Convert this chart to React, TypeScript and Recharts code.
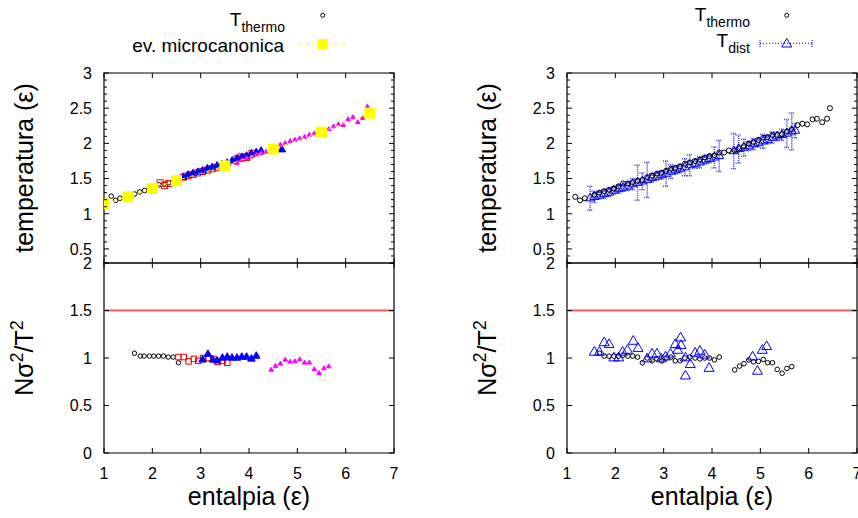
import { ErrorBar, Legend, ReferenceArea, ReferenceLine, Scatter, ScatterChart, XAxis, YAxis } from 'recharts'

const FONT = '"Liberation Sans", Arial, Helvetica, sans-serif'
const PLOT_W = 290
const PLOT_H = 190
const AXIS_W = 104

// tick values
const enthalpyTicks = [1, 2, 3, 4, 5, 6, 7]
const tempTicks = [
  0.3, 0.4, 0.5, 0.6, 0.7, 0.8, 0.9, 1, 1.1, 1.2, 1.3, 1.4, 1.5, 1.6, 1.7, 1.8, 1.9, 2, 2.1, 2.2, 2.3, 2.4,
  2.5, 2.6, 2.7, 2.8, 2.9, 3,
]
const ratioTicks = [0, 0.5, 1, 1.5, 2]

// left column, temperature vs enthalpy
const thermoLX = [1.15, 1.24, 1.33, 1.63, 1.74, 1.84, 1.94, 2.04, 2.14, 2.24, 2.34, 2.44, 2.54]
const thermoLY = [1.25, 1.19, 1.22, 1.28, 1.31, 1.33, 1.35, 1.37, 1.41, 1.42, 1.44, 1.46, 1.47]
const redLX = [2.16, 2.25, 2.34, 2.64, 2.74, 2.84, 2.94, 3.04, 3.14, 3.24, 3.34, 3.75, 3.85, 3.95, 4.06]
const redLY = [1.44, 1.4, 1.43, 1.52, 1.54, 1.56, 1.58, 1.6, 1.62, 1.64, 1.66, 1.78, 1.81, 1.8, 1.86]
const blueLX = [2.64, 2.74, 2.84, 2.94, 3.04, 3.14, 3.24, 3.34, 3.44, 3.55, 3.65, 3.75, 3.85, 3.95, 4.05, 4.15, 4.25, 4.68]
const blueLY = [1.52, 1.55, 1.57, 1.59, 1.61, 1.64, 1.66, 1.68, 1.7, 1.72, 1.75, 1.78, 1.8, 1.82, 1.85, 1.87, 1.89, 1.91]
const magentaLX = [
  3.75, 3.85, 3.95, 4.05, 4.15, 4.25, 4.35, 4.46, 4.55, 4.65, 4.75, 4.85, 4.95, 5.05, 5.15, 5.25, 5.35, 5.45,
  5.55, 5.65, 5.75, 5.85, 5.95, 6.05, 6.15, 6.25, 6.35, 6.45,
]
const magentaLY = [
  1.72, 1.76, 1.79, 1.81, 1.84, 1.86, 1.88, 1.9, 1.95, 1.98, 2.0, 2.03, 2.05, 2.07, 2.09, 2.12, 2.14, 2.16,
  2.18, 2.2, 2.24, 2.27, 2.26, 2.34, 2.37, 2.3, 2.36, 2.52,
]
const microX = [1, 1.5, 2, 2.5, 3.5, 4.5, 5.5, 6.5]
const microY = [1.14, 1.24, 1.36, 1.47, 1.68, 1.92, 2.16, 2.43]

// left column, N sigma^2 / T^2
const thermoRatioLX = [1.63, 1.75, 1.83, 1.94, 2.03, 2.13, 2.23, 2.33, 2.43, 2.54]
const thermoRatioLY = [1.05, 1.02, 1.02, 1.02, 1.02, 1.02, 1.02, 1.01, 1.01, 0.95]
const redRatioX = [2.54, 2.65, 2.75, 2.86, 2.95, 3.05, 3.16, 3.26, 3.35, 3.46, 3.55]
const redRatioY = [1.01, 1.01, 0.965, 0.99, 0.97, 1.0, 1.0, 0.99, 0.96, 0.97, 0.95]
const blueRatioX = [3.04, 3.15, 3.25, 3.34, 3.45, 3.55, 3.65, 3.75, 3.85, 3.95, 4.05, 4.15]
const blueRatioY = [0.98, 1.04, 0.98, 0.97, 1.0, 1.01, 1.0, 1.0, 1.01, 1.01, 0.99, 1.02]
const magentaRatioX = [4.46, 4.55, 4.65, 4.75, 4.85, 4.95, 5.05, 5.15, 5.25, 5.35, 5.45, 5.55, 5.65]
const magentaRatioY = [0.875, 0.915, 0.94, 0.98, 0.96, 0.965, 0.985, 0.95, 0.95, 0.88, 0.84, 0.89, 0.91]

// right column, temperature vs enthalpy
const thermoRX = [
  1.17, 1.27, 1.37, 1.57, 1.67, 1.77, 1.87, 1.97, 2.07, 2.16, 2.26, 2.36, 2.46, 2.56, 2.66, 2.76, 2.86, 2.96,
  3.05, 3.15, 3.24, 3.34, 3.44, 3.54, 3.65, 3.75, 3.85, 3.95, 4.05, 4.15, 4.25, 4.35, 4.47, 4.57, 4.66, 4.76,
  4.86, 4.96, 5.06, 5.15, 5.25, 5.35, 5.45, 5.55, 5.65, 5.77, 5.87, 5.97, 6.08, 6.17, 6.28, 6.38, 6.44,
]
const thermoRY = [
  1.24, 1.19, 1.22, 1.27, 1.3, 1.32, 1.34, 1.36, 1.39, 1.43, 1.43, 1.45, 1.47, 1.48, 1.52, 1.54, 1.57, 1.58,
  1.61, 1.64, 1.65, 1.67, 1.71, 1.73, 1.75, 1.77, 1.8, 1.82, 1.83, 1.87, 1.87, 1.9, 1.9, 1.93, 1.96, 2.0,
  2.02, 2.05, 2.08, 2.09, 2.12, 2.12, 2.13, 2.17, 2.2, 2.26, 2.28, 2.27, 2.34, 2.35, 2.3, 2.35, 2.5,
]
const distX = [
  1.48, 1.57, 1.67, 1.77, 1.87, 1.97, 2.07, 2.16, 2.26, 2.36, 2.46, 2.56, 2.66, 2.76, 2.86, 2.96, 3.05, 3.15,
  3.24, 3.34, 3.44, 3.54, 3.65, 3.75, 3.85, 3.95, 4.05, 4.15, 4.45, 4.55, 4.66, 4.76, 4.86, 4.96, 5.06, 5.15,
  5.25, 5.35, 5.45, 5.55, 5.65, 5.72,
]
const distY = [
  1.22, 1.24, 1.26, 1.28, 1.3, 1.33, 1.35, 1.37, 1.39, 1.42, 1.44, 1.46, 1.48, 1.51, 1.53, 1.55, 1.57, 1.6,
  1.62, 1.64, 1.66, 1.69, 1.71, 1.73, 1.76, 1.78, 1.8, 1.82, 1.89, 1.92, 1.94, 1.96, 1.99, 2.01, 2.03, 2.05,
  2.08, 2.1, 2.12, 2.14, 2.17, 2.18,
]
const distErr = [
  0.17, 0.08, 0.05, 0.06, 0.05, 0.05, 0.06, 0.05, 0.06, 0.08, 0.25, 0.12, 0.25, 0.06, 0.05, 0.06, 0.18, 0.1,
  0.06, 0.06, 0.12, 0.15, 0.06, 0.08, 0.05, 0.06, 0.15, 0.22, 0.25, 0.2, 0.12, 0.06, 0.08, 0.06, 0.1, 0.06,
  0.08, 0.06, 0.08, 0.2, 0.26, 0.1,
]

// right column, N sigma^2 / T^2
const thermoRatioRX = [
  1.67, 1.77, 1.87, 1.97, 2.06, 2.16, 2.26, 2.36, 2.46, 2.56, 2.66, 2.76, 2.86, 2.96, 3.05, 3.15, 3.24, 3.34,
  3.44, 3.54, 3.65, 3.75, 3.85, 3.95, 4.05, 4.15, 4.47, 4.57, 4.66, 4.76, 4.86, 4.96, 5.06, 5.15, 5.25, 5.35,
  5.45, 5.55, 5.65,
]
const thermoRatioRY = [
  1.05, 1.02, 1.02, 1.02, 1.02, 1.03, 1.02, 1.02, 1.01, 0.95, 1.0, 0.97, 0.99, 0.97, 1.0, 1.01, 0.97, 0.97,
  1.0, 1.01, 1.0, 0.99, 1.0, 1.0, 0.98, 1.01, 0.875, 0.915, 0.94, 0.98, 0.96, 0.965, 0.985, 0.95, 0.95, 0.88,
  0.84, 0.89, 0.91,
]
const distRatioX = [
  1.565, 1.67, 1.77, 1.87, 1.97, 2.07, 2.15, 2.25, 2.37, 2.47, 2.66, 2.76, 2.86, 2.95, 3.04, 3.14, 3.24, 3.29,
  3.35, 3.36, 3.45, 3.45, 3.55, 3.65, 3.75, 3.85, 3.94, 4.84, 4.94, 5.04, 5.13,
]
const distRatioY = [
  1.06, 1.06, 1.16, 1.14, 1.0, 1.0, 1.06, 1.08, 1.175, 1.1, 0.99, 1.04, 1.04, 0.99, 1.01, 1.04, 1.14, 1.08,
  1.21, 1.13, 1.0, 0.81, 0.93, 1.05, 1.07, 1.03, 0.89, 1.01, 0.86, 1.08, 1.12,
]

const zip = (xs: number[], ys: number[]) => xs.map((x, i) => ({ x, y: ys[i] }))
const withErr = (xs: number[], ys: number[], es: number[]) => xs.map((x, i) => ({ x, y: ys[i], err: es[i] }))

// point shapes
const ring = (r: number) => (p: any) => (
  <circle cx={p.cx} cy={p.cy} r={r} fill="none" stroke="#000" strokeWidth={1} />
)
const box = (color: string, s: number, filled: boolean) => (p: any) => (
  <rect x={p.cx - s / 2} y={p.cy - s / 2} width={s} height={s} fill={filled ? color : 'none'} stroke={color} strokeWidth={1} />
)
const tri = (color: string, w: number, filled: boolean) => (p: any) => {
  const h = w * 0.87
  return (
    <polygon
      points={`${p.cx},${p.cy - (h * 2) / 3} ${p.cx - w / 2},${p.cy + h / 3} ${p.cx + w / 2},${p.cy + h / 3}`}
      fill={filled ? color : 'none'}
      stroke={color}
      strokeWidth={1}
    />
  )
}

const isMajor = (v: number) => Math.abs(v * 2 - Math.round(v * 2)) < 1e-6

// gnuplot style ticks: inward on both sides of the box
const yTick = (props: any) => {
  const { x, y, payload } = props
  const v = payload.value
  const len = isMajor(v) ? 5 : 3
  return (
    <g>
      <line x1={x} x2={x + len} y1={y} y2={y} stroke="#000" />
      <line x1={x + PLOT_W - len} x2={x + PLOT_W} y1={y} y2={y} stroke="#000" />
      {isMajor(v) && (
        <text x={x - 12} y={y} dy="0.36em" textAnchor="end" fontSize={16} fontFamily={FONT} fill="#000">
          {v}
        </text>
      )}
    </g>
  )
}

const xTick = (withLabel: boolean) => (props: any) => {
  const { x, y, payload } = props
  return (
    <g>
      <line x1={x} x2={x} y1={y} y2={y - 5} stroke="#000" />
      <line x1={x} x2={x} y1={y - PLOT_H} y2={y - PLOT_H + 5} stroke="#000" />
      {withLabel && (
        <text x={x} y={y + 26} textAnchor="middle" fontSize={16} fontFamily={FONT} fill="#000">
          {payload.value}
        </text>
      )}
    </g>
  )
}

const tempTitle = (cy: number) => () => (
  <text x={33} y={cy} transform={`rotate(-90, 33, ${cy})`} textAnchor="middle" fontSize={25} fontFamily={FONT} fill="#000">
    temperatura (ε)
  </text>
)

const ratioTitle = (cy: number) => () => (
  <text x={33} y={cy} transform={`rotate(-90, 33, ${cy})`} textAnchor="middle" fontSize={25} fontFamily={FONT} fill="#000">
    Nσ<tspan fontSize={18} dy={-10}>2</tspan>
    <tspan dy={10}>/T</tspan>
    <tspan fontSize={18} dy={-10}>2</tspan>
  </text>
)

const enthalpyTitle = (cy: number) => () => (
  <text x={AXIS_W + PLOT_W / 2} y={cy} textAnchor="middle" fontSize={25} fontFamily={FONT} fill="#000">
    entalpia (ε)
  </text>
)

const legendLeft = () => (
  <svg width={260} height={60}>
    <text x={185} y={26} textAnchor="end" fontSize={19} fontFamily={FONT} fill="#000">
      T<tspan fontSize={14} dy={6}>thermo</tspan>
    </text>
    <circle cx={222.7} cy={15.3} r={2} fill="none" stroke="#000" />
    <text x={184} y={52} textAnchor="end" fontSize={19} fontFamily={FONT} fill="#000">
      ev. microcanonica
    </text>
    <line x1={197} x2={247} y1={44} y2={44} stroke="#ffff00" strokeDasharray="4 2 1 2" />
    <rect x={217.7} y={39} width={10} height={10} fill="#ffff00" />
  </svg>
)

const legendRight = () => (
  <svg width={260} height={60}>
    <text x={190} y={21} textAnchor="end" fontSize={19} fontFamily={FONT} fill="#000">
      T<tspan fontSize={14} dy={6}>thermo</tspan>
    </text>
    <circle cx={226.7} cy={15.3} r={2} fill="none" stroke="#000" />
    <text x={190} y={47} textAnchor="end" fontSize={19} fontFamily={FONT} fill="#000">
      T<tspan fontSize={14} dy={6}>dist</tspan>
    </text>
    <line x1={200} x2={252} y1={43.3} y2={43.3} stroke="#0000ff" strokeDasharray="1 2" />
    <line x1={200} x2={200} y1={40} y2={47} stroke="#0000ff" strokeDasharray="1 1" />
    <line x1={252} x2={252} y1={40} y2={47} stroke="#0000ff" strokeDasharray="1 1" />
    <polygon points="226.7,38.5 221.7,47 231.7,47" fill="none" stroke="#0000ff" />
  </svg>
)

interface PanelProps {
  left: number
  top: number
  width: number
  height: number
  marginTop: number
  xAxisHeight: number
  yDomain: [number, number]
  yTicks: number[]
  xLabels: boolean
  yTitle: any
  xTitle?: any
  children: any
}

function Panel({ left, top, width, height, marginTop, xAxisHeight, yDomain, yTicks, xLabels, yTitle, xTitle, children }: PanelProps) {
  return (
    <div style={{ position: 'absolute', left, top }}>
      <ScatterChart
        width={width}
        height={height}
        margin={{ top: marginTop, right: width - AXIS_W - PLOT_W, bottom: 0, left: 0 }}
      >
        <XAxis
          type="number"
          dataKey="x"
          domain={[1, 7]}
          ticks={enthalpyTicks}
          interval={0}
          allowDataOverflow
          axisLine={false}
          tickLine={false}
          tickSize={0}
          tickMargin={0}
          height={xAxisHeight}
          tick={xTick(xLabels)}
          label={xTitle}
        />
        <YAxis
          type="number"
          dataKey="y"
          domain={yDomain}
          ticks={yTicks}
          interval={0}
          allowDataOverflow
          width={AXIS_W}
          axisLine={false}
          tickLine={false}
          tickSize={0}
          tickMargin={0}
          tick={yTick}
          label={yTitle}
        />
        {children}
        <ReferenceArea x1={1} x2={7} y1={yDomain[0]} y2={yDomain[1]} fill="none" stroke="#000" strokeWidth={1.2} />
      </ScatterChart>
    </div>
  )
}

export default function App() {
  const topH = 273
  const botTop = 253
  const botH = 260
  return (
    <div style={{ position: 'absolute', left: 0, top: 0, width: 858, height: 518, overflow: 'hidden', background: '#fff', fontFamily: FONT }}>
      {/* top left */}
      <Panel left={0} top={0} width={400} height={topH} marginTop={73} xAxisHeight={10} yDomain={[0.3, 3]} yTicks={tempTicks} xLabels={false} yTitle={tempTitle(168)}>
        <Scatter data={zip(thermoLX, thermoLY)} shape={ring(2.3)} isAnimationActive={false} />
        <Scatter data={zip(redLX, redLY)} shape={box('#ff0000', 6, false)} isAnimationActive={false} />
        <Scatter data={zip(blueLX, blueLY)} shape={tri('#0000ff', 7.5, true)} isAnimationActive={false} />
        <Scatter data={zip(magentaLX, magentaLY)} shape={tri('#ff00ff', 4.5, true)} isAnimationActive={false} />
        <Scatter
          data={zip(microX, microY)}
          shape={box('#ffff00', 10, true)}
          line={{ stroke: '#ffff00', strokeDasharray: '4 2 1 2', strokeWidth: 1 }}
          isAnimationActive={false}
        />
        <Legend
          layout="horizontal"
          verticalAlign="middle"
          align="center"
          content={legendLeft}
          wrapperStyle={{ position: 'absolute', left: 100, top: 0, width: 260, height: 60 }}
        />
      </Panel>

      {/* bottom left */}
      <Panel left={0} top={botTop} width={400} height={botH} marginTop={10} xAxisHeight={60} yDomain={[0, 2]} yTicks={ratioTicks} xLabels yTitle={ratioTitle(105)} xTitle={enthalpyTitle(252)}>
        <ReferenceLine y={1.5} stroke="#f05a5a" strokeWidth={2} />
        <Scatter data={zip(thermoRatioLX, thermoRatioLY)} shape={ring(2.2)} isAnimationActive={false} />
        <Scatter data={zip(redRatioX, redRatioY)} shape={box('#ff0000', 5.5, false)} isAnimationActive={false} />
        <Scatter data={zip(blueRatioX, blueRatioY)} shape={tri('#0000ff', 7.5, true)} isAnimationActive={false} />
        <Scatter data={zip(magentaRatioX, magentaRatioY)} shape={tri('#ff00ff', 4.5, true)} isAnimationActive={false} />
      </Panel>

      {/* top right */}
      <Panel left={463} top={0} width={395} height={topH} marginTop={73} xAxisHeight={10} yDomain={[0.3, 3]} yTicks={tempTicks} xLabels={false} yTitle={tempTitle(168)}>
        <Scatter data={withErr(distX, distY, distErr)} shape={tri('#0000ff', 9, false)} isAnimationActive={false}>
          <ErrorBar dataKey="err" direction="y" width={3} stroke="#3a3aff" strokeDasharray="1 1" />
        </Scatter>
        <Scatter data={zip(thermoRX, thermoRY)} shape={ring(2.5)} isAnimationActive={false} />
        <Legend
          layout="horizontal"
          verticalAlign="middle"
          align="center"
          content={legendRight}
          wrapperStyle={{ position: 'absolute', left: 97, top: 0, width: 260, height: 60 }}
        />
      </Panel>

      {/* bottom right */}
      <Panel left={463} top={botTop} width={395} height={botH} marginTop={10} xAxisHeight={60} yDomain={[0, 2]} yTicks={ratioTicks} xLabels yTitle={ratioTitle(105)} xTitle={enthalpyTitle(252)}>
        <ReferenceLine y={1.5} stroke="#f05a5a" strokeWidth={2} />
        <Scatter data={zip(thermoRatioRX, thermoRatioRY)} shape={ring(2.3)} isAnimationActive={false} />
        <Scatter data={zip(distRatioX, distRatioY)} shape={tri('#0000ff', 10, false)} isAnimationActive={false} />
      </Panel>
    </div>
  )
}
